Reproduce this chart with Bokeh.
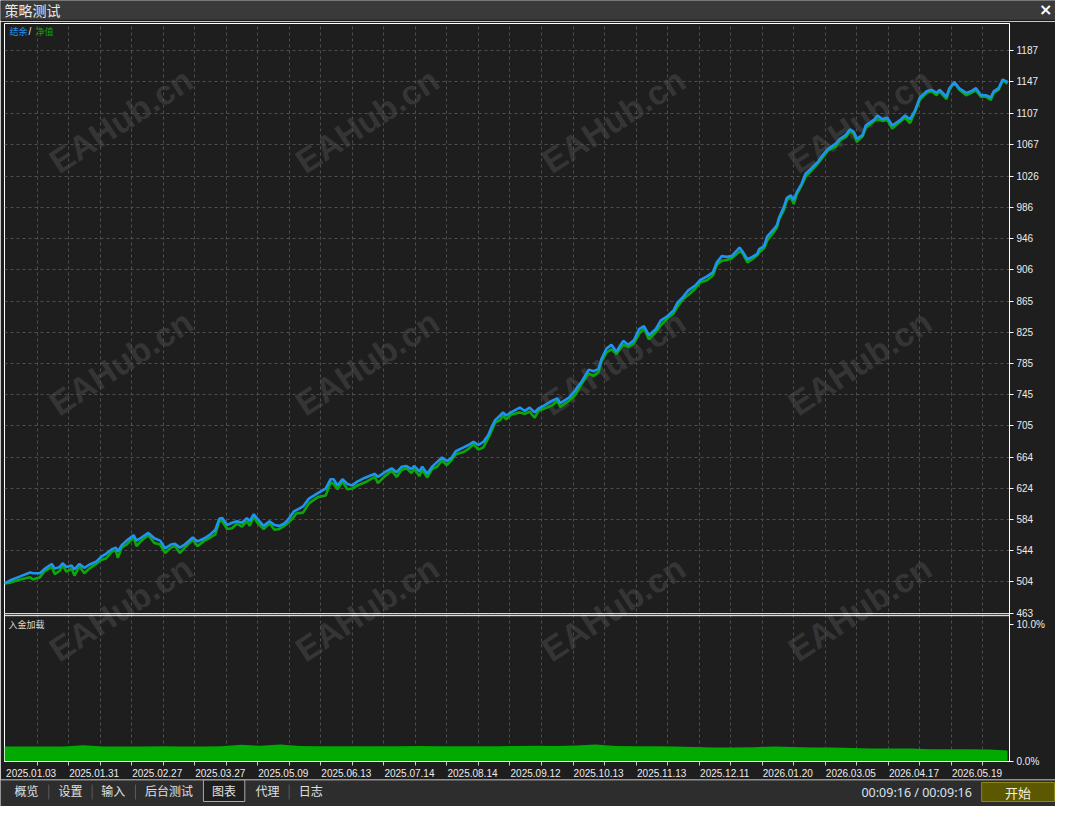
from bokeh.plotting import figure
from bokeh.layouts import column
from bokeh.models import Range1d, FixedTicker, Grid, Label, ColumnDataSource, Span
from bokeh.embed import file_html
from bokeh.resources import INLINE
from bokeh.core.properties import value

# ---------------- data ----------------
window_title = "策略测试"
legend_balance = "结余"
legend_equity = "净值"
panel_title = "入金加载"
tab_names = ["概览", "设置", "输入", "后台测试", "图表", "代理", "日志"]
elapsed_text = "00:09:16 / 00:09:16"
start_text = "开始"
watermark_text = "EAHub.cn"

deal_idx = [0, 6, 16, 26, 29, 36, 41, 48, 51, 56,
            59, 63, 68, 71, 76, 81, 86, 93, 98, 103,
            109, 113, 115, 119, 124, 131, 134, 139, 146, 152,
            158, 163, 169, 173, 178, 183, 191, 196, 203, 209,
            214, 218, 221, 226, 231, 236, 241, 246, 249, 253,
            256, 263, 269, 274, 279, 284, 289, 294, 296, 303,
            309, 318, 326, 331, 334, 338, 343, 348, 353, 358,
            366, 376, 379, 386, 393, 398, 403, 408, 413, 416,
            421, 424, 429, 434, 439, 444, 449, 454, 458, 466,
            471, 476, 481, 486, 491, 494, 498, 503, 506, 509,
            514, 523, 528, 533, 538, 542, 548, 556, 561, 564,
            573, 579, 586, 593, 598, 603, 606, 611, 616, 621,
            628, 633, 639, 644, 649, 654, 661, 666, 673, 679,
            683, 689, 694, 701, 706, 713, 719, 723, 728, 733,
            738, 746, 749, 754, 759, 764, 766, 771, 774, 781,
            784, 786, 791, 794, 798, 801, 804, 809, 813, 819,
            826, 831, 836, 844, 848, 854, 858, 862, 865, 871,
            874, 883, 886, 891, 896, 901, 909, 914, 919, 924,
            929, 936, 941, 946, 949, 956, 959, 964, 969, 976,
            981, 986, 991, 996, 1001, 1004, 1009, 1013, 1018]

balance = [502, 506, 511, 516, 515, 515, 521, 527, 521, 523,
           528, 523, 525, 520, 527, 522, 526, 530, 536, 540,
           546, 548, 543, 551, 557, 564, 557, 561, 567, 560,
           557, 547, 552, 553, 548, 552, 561, 556, 560, 565,
           571, 585, 586, 577, 580, 582, 580, 586, 582, 591,
           586, 576, 582, 577, 576, 579, 586, 595, 596, 601,
           611, 618, 624, 636, 636, 628, 636, 630, 628, 633,
           638, 643, 639, 645, 650, 645, 652, 653, 649, 653,
           646, 652, 643, 652, 658, 664, 659, 664, 672, 677,
           680, 684, 680, 684, 693, 702, 712, 718, 722, 718,
           722, 728, 724, 728, 722, 727, 731, 737, 740, 734,
           741, 750, 762, 777, 775, 778, 791, 804, 809, 800,
           814, 809, 815, 829, 833, 821, 829, 840, 846, 853,
           863, 871, 879, 885, 892, 897, 902, 915, 923, 922,
           923, 934, 929, 919, 922, 926, 932, 936, 948, 958,
           963, 972, 986, 998, 1001, 995, 1005, 1016, 1029, 1036,
           1045, 1054, 1061, 1068, 1074, 1079, 1086, 1083, 1074, 1079,
           1091, 1099, 1104, 1099, 1101, 1091, 1098, 1104, 1099, 1110,
           1127, 1135, 1137, 1133, 1137, 1128, 1139, 1147, 1139, 1133,
           1135, 1139, 1130, 1130, 1127, 1135, 1139, 1150, 1147]

equity_drawdown = [0, 3, 4, 6, 8, 5, 3, 4, 7, 5,
                   3, 6, 4, 8, 3, 7, 5, 3, 4, 6,
                   3, 4, 8, 3, 5, 3, 7, 4, 3, 6,
                   5, 6, 4, 3, 7, 4, 3, 6, 3, 4,
                   6, 3, 4, 5, 7, 3, 5, 4, 6, 3,
                   5, 4, 3, 6, 4, 3, 5, 7, 4, 8,
                   6, 5, 9, 4, 6, 5, 3, 7, 4, 5,
                   6, 4, 8, 5, 3, 6, 4, 3, 5, 4,
                   6, 4, 5, 3, 6, 4, 5, 3, 4, 6,
                   5, 3, 6, 7, 4, 5, 3, 6, 4, 5,
                   3, 6, 4, 5, 7, 3, 4, 6, 3, 5,
                   4, 6, 3, 5, 6, 4, 3, 5, 6, 3,
                   5, 3, 4, 6, 3, 5, 4, 6, 3, 4,
                   5, 3, 6, 4, 3, 5, 4, 3, 6, 4,
                   3, 5, 2, 4, 3, 2, 4, 3, 5, 4,
                   3, 2, 4, 3, 2, 5, 3, 2, 4, 3,
                   2, 3, 2, 4, 2, 3, 2, 3, 4, 2,
                   3, 2, 5, 2, 3, 4, 2, 3, 5, 2,
                   3, 2, 2, 3, 2, 3, 2, 1, 2, 3,
                   2, 3, 2, 2, 3, 2, 2, 1, 2]

equity = [b - d for b, d in zip(balance, equity_drawdown)]

y_tick_values = [463, 504, 544, 584, 624, 664, 705, 745, 785, 825,
                 865, 906, 946, 986, 1026, 1067, 1107, 1147, 1187]

load_idx = [0, 20, 40, 60, 80, 100, 120, 140, 160, 180,
            200, 220, 240, 260, 280, 300, 320, 340, 360, 380,
            400, 420, 440, 460, 480, 500, 520, 540, 560, 580,
            600, 620, 640, 660, 680, 700, 720, 740, 760, 780,
            800, 820, 840, 860, 880, 900, 920, 940, 960, 980,
            1000, 1018]
load_pct = [1.10, 1.10, 1.10, 1.10, 1.19, 1.10, 1.10, 1.10, 1.11, 1.10,
            1.10, 1.11, 1.22, 1.16, 1.24, 1.14, 1.12, 1.11, 1.12, 1.11,
            1.12, 1.14, 1.12, 1.11, 1.12, 1.11, 1.14, 1.16, 1.14, 1.18,
            1.24, 1.14, 1.12, 1.12, 1.10, 1.06, 1.03, 1.03, 1.04, 1.10,
            1.06, 1.03, 1.03, 0.98, 0.96, 0.96, 0.96, 0.90, 0.90, 0.90,
            0.88, 0.80]
load_ticks = [0, 10]
load_tick_labels = ["0.0%", "10.0%"]

date_labels = ["2025.01.03", "2025.01.31", "2025.02.27", "2025.03.27",
               "2025.05.09", "2025.06.13", "2025.07.14", "2025.08.14",
               "2025.09.12", "2025.10.13", "2025.11.13", "2025.12.11",
               "2026.01.20", "2026.03.05", "2026.04.17", "2026.05.19"]

# ---------------- layout / style ----------------
BG = "#1e1e1e"
GRID = "#4e4e4e"
BLUE = "#1e94f0"
GREEN = "#0aa80a"
FILL_GREEN = "#00aa00"
W = 1055
LB, FW = 4, 1005
RB = W - LB - FW
SX = FW / 1020.0
NUM_FONT = "Liberation Sans"
CJK = "Noto Sans CJK SC"

# reference geometry of the chart (pixels of the original window)
REF_TOP, REF_MAIN_BOTTOM, REF_LOAD_TOP, REF_BOTTOM = 24, 627, 629, 778
REF_TICK_TOP = 52          # where the 1187 tick sits
REF_LOAD10 = 638.5         # where the 10.0% tick sits
FH = 739
SY = FH / float(REF_BOTTOM - REF_TOP)

k_main = (y_tick_values[-1] - y_tick_values[0]) / float(REF_MAIN_BOTTOM - REF_TICK_TOP)
main_lo = y_tick_values[0] - (REF_BOTTOM - REF_MAIN_BOTTOM) * k_main
main_hi = y_tick_values[-1] + (REF_TICK_TOP - REF_TOP) * k_main
k_load = load_ticks[-1] / float(REF_BOTTOM - REF_LOAD10)
load_hi = (REF_BOTTOM - REF_TOP) * k_load

date_idx = [2 + 64 * k for k in range(len(date_labels))]
label_half = 25
grid_idx = list(range(33, 1020, 32))

wm_cols = [122, 372, 622, 872]
wm_rows = [124, 371, 622]


def chrome_fig(height, yr):
    p = figure(width=W, height=height, x_range=Range1d(0, 1071), y_range=Range1d(yr, 0),
               x_axis_location=None, y_axis_location=None,
               output_backend="svg", toolbar_location=None)
    p.min_border = 0
    p.min_border_left = 0
    p.min_border_right = 0
    p.min_border_top = 0
    p.min_border_bottom = 0
    p.frame_align = False
    p.outline_line_color = None
    p.grid.visible = False
    p.background_fill_color = BG
    p.border_fill_color = BG
    return p


# ---- title bar ----
pa = chrome_fig(21, 21.4)
pa.quad(left=0, right=1071, top=0, bottom=19.5, fill_color="#3a3a3a", line_color=None)
pa.text(x=[4], y=[10], text=[window_title], text_font=value(CJK), text_font_size="14px",
        text_color="#e8e8e8", text_baseline="middle", text_align="left")
pa.text(x=[1061], y=[9.5], text=["×"], text_font=value("DejaVu Sans"), text_font_size="16px",
        text_color="#ffffff", text_baseline="middle", text_align="center", text_font_style="bold")

# ---- chart: balance/equity on top, deposit load at the bottom ----
pm = figure(width=W, height=2 + FH + 17, x_range=Range1d(0, 1020),
            y_range=Range1d(main_lo, main_hi),
            x_axis_location="below", y_axis_location="right",
            output_backend="svg", toolbar_location=None)
pm.extra_y_ranges = {"load": Range1d(0, load_hi)}
pm.min_border_left = LB
pm.min_border_right = RB
pm.min_border_top = 2
pm.min_border_bottom = 17
pm.background_fill_color = BG
pm.border_fill_color = BG
pm.outline_line_color = "#ffffff"
pm.grid.visible = False

for Y in wm_rows:
    for X in wm_cols:
        pm.add_layout(Label(x=(X - 4) * SX, y=(REF_BOTTOM - Y) * SY,
                            x_units="screen", y_units="screen",
                            text=watermark_text, angle=33, angle_units="deg",
                            text_align="center", text_baseline="middle",
                            text_font="Liberation Sans", text_font_style="bold",
                            text_font_size="34px", text_color="#353535",
                            level="underlay"))

pm.add_layout(Grid(dimension=1, ticker=FixedTicker(ticks=y_tick_values),
                   grid_line_color=GRID, grid_line_dash="3 3"))
pm.add_layout(Grid(dimension=0, ticker=FixedTicker(ticks=grid_idx),
                   grid_line_color=GRID, grid_line_dash="3 3"))

# deposit load area
pm.varea(x=load_idx, y1=0, y2=load_pct, fill_color=FILL_GREEN, y_range_name="load")

# panel separators (bottom of balance panel, top of load panel)
pm.add_layout(Span(location=y_tick_values[0], dimension="width", line_color="#ffffff",
                   line_width=1))
pm.add_layout(Span(location=(REF_BOTTOM - REF_LOAD_TOP) * k_load, dimension="width",
                   line_color="#ffffff", line_width=1, y_range_name="load"))

src = ColumnDataSource(dict(x=deal_idx, balance=balance, equity=equity))
pm.line("x", "equity", source=src, line_color=GREEN, line_width=2.6)
pm.line("x", "balance", source=src, line_color=BLUE, line_width=2.6)

# right axis: balance ticks + load ticks (load values expressed on the main scale)
load_tick_pos = [main_lo + t / k_load * k_main for t in load_ticks]
ax = pm.yaxis[0]
ax.ticker = FixedTicker(ticks=load_tick_pos + y_tick_values)
overrides = {v: str(v) for v in y_tick_values}
overrides.update({pos: lab for pos, lab in zip(load_tick_pos, load_tick_labels)})
ax.major_label_overrides = overrides
ax.axis_line_color = "#ffffff"
ax.major_tick_line_color = "#ffffff"
ax.major_tick_out = 4
ax.major_tick_in = 0
ax.minor_tick_line_color = None
ax.major_label_standoff = 3
ax.major_label_text_color = "#ececec"
ax.major_label_text_font = NUM_FONT
ax.major_label_text_font_size = "10px"

# bottom axis: dates
xa = pm.xaxis[0]
centers = [d + label_half for d in date_idx]
xa.ticker = FixedTicker(ticks=centers, minor_ticks=grid_idx)
xa.major_label_overrides = {c: lab for c, lab in zip(centers, date_labels)}
xa.axis_line_color = "#ffffff"
xa.major_tick_line_color = None
xa.major_tick_out = 0
xa.major_tick_in = 0
xa.minor_tick_line_color = "#cfcfcf"
xa.minor_tick_out = 4
xa.minor_tick_in = 0
xa.major_label_standoff = 3
xa.major_label_text_color = "#ececec"
xa.major_label_text_font = NUM_FONT
xa.major_label_text_font_size = "10px"

# legend and panel title
leg_y = (REF_BOTTOM - 33) * SY
pm.add_layout(Label(x=5, y=leg_y, x_units="screen", y_units="screen", text=legend_balance,
                    text_font=CJK, text_font_size="9px", text_color=BLUE, text_baseline="middle"))
pm.add_layout(Label(x=24, y=leg_y, x_units="screen", y_units="screen", text="/",
                    text_font=NUM_FONT, text_font_size="10px", text_color="#e0e0e0",
                    text_baseline="middle"))
pm.add_layout(Label(x=31, y=leg_y, x_units="screen", y_units="screen", text=legend_equity,
                    text_font=CJK, text_font_size="9px", text_color=GREEN, text_baseline="middle"))
pm.add_layout(Label(x=4, y=(REF_BOTTOM - 638) * SY, x_units="screen", y_units="screen",
                    text=panel_title, text_font=CJK, text_font_size="9px",
                    text_color="#d8d8d8", text_baseline="middle"))

# ---- tab bar ----
pd_ = chrome_fig(27, 27)
pd_.background_fill_color = "#2d2d2d"
pd_.border_fill_color = "#2d2d2d"
pd_.segment(x0=[0], y0=[0.5], x1=[1071], y1=[0.5], line_color="#8c8c8c", line_width=1)
pd_.quad(left=[206], right=[248], top=[0.5], bottom=[22], fill_color=BG, line_color="#a8a8a8")
sep_x = [49, 93, 137, 293]
pd_.segment(x0=sep_x, y0=[5] * 4, x1=sep_x, y1=[20] * 4, line_color="#5a5a5a")
tab_x = [26.5, 71, 114.5, 171, 227, 271, 315]
pd_.text(x=tab_x, y=[10.5] * len(tab_names), text=tab_names, text_font=value(CJK),
         text_font_size="12px", text_color="#e0e0e0", text_align="center",
         text_baseline="middle")
pd_.text(x=[930], y=[13], text=[elapsed_text], text_font=value("Noto Sans"),
         text_font_size="12.5px", text_color="#d8e4f0", text_align="center",
         text_baseline="middle")
pd_.quad(left=[996], right=[1070], top=[3], bottom=[22], fill_color="#5c5800",
         line_color="#8c8618")
pd_.text(x=[1033], y=[12.5], text=[start_text], text_font=value(CJK), text_font_size="13px",
         text_color="#f2f2e0", text_align="center", text_baseline="middle")

layout = column(pa, pm, pd_, spacing=0)
open("out.html", "w").write(file_html(layout, INLINE))
